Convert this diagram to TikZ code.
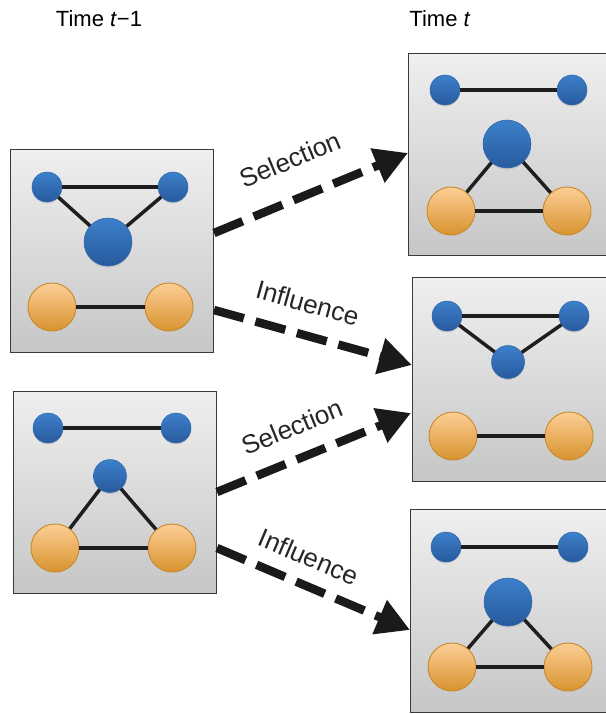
\documentclass[tikz,border=0pt]{standalone}
\usepackage{fontspec}
\setmainfont{Liberation Sans}
\usetikzlibrary{arrows.meta,shadows}
\definecolor{paneltop}{HTML}{EFEFEF}
\definecolor{panelbot}{HTML}{C6C6C6}
\definecolor{boxline}{HTML}{3A3A3A}
\definecolor{bluetop}{HTML}{3C80CA}
\definecolor{bluebot}{HTML}{285A9E}
\definecolor{blueline}{HTML}{2F66AA}
\definecolor{orangetop}{HTML}{FCCE95}
\definecolor{orangebot}{HTML}{D8932E}
\definecolor{orangeline}{HTML}{C88A2E}
\definecolor{edgecol}{HTML}{1E1E1E}
\definecolor{arrowcol}{HTML}{1A1A1A}
\begin{document}
\begin{tikzpicture}[x=1pt,y=-1pt,
  panel/.style={draw=boxline, line width=1.3pt, top color=paneltop, bottom color=panelbot,
    anchor=north west, inner sep=0pt, rectangle},
  bnode/.style={circle, inner sep=0pt, draw=blueline, line width=0.5pt,
    top color=bluetop, bottom color=bluebot, minimum size=#1,
    drop shadow={opacity=0.25, shadow xshift=0pt, shadow yshift=-1.5pt}},
  bnode/.default=30pt,
  onode/.style={circle, inner sep=0pt, draw=orangeline, line width=0.9pt,
    top color=orangetop, bottom color=orangebot, minimum size=#1},
  onode/.default=48pt,
  link/.style={line width=3.5pt, draw=edgecol},
  flow/.style={line width=8.5pt, draw=arrowcol, dash pattern=on 31pt off 12pt,
    -{Triangle[length=33pt,width=35pt]}},
  lab/.style={font=\fontsize{26}{30}\selectfont, inner sep=0pt, text=black!85},
  title/.style={font=\fontsize{22}{26}\selectfont, inner sep=0pt}
]
\useasboundingbox (0,0) rectangle (605,714);

% titles
\node[title] (t1) at (99,19) {Time \textit{t}−1};
\node[title] (t2) at (440,19) {Time \textit{t}};

% ---------- left panel 1 ----------
\node[panel, minimum width=203pt, minimum height=203pt] (L1) at (10,149) {};
\node[bnode] (L1a) at (47,187) {};
\node[bnode] (L1b) at (173,187) {};
\node[bnode=48pt] (L1c) at (108,242) {};
\node[onode] (L1d) at (52,307) {};
\node[onode] (L1e) at (169,307) {};
\draw[link] (L1a) -- (L1b);
\draw[link] (L1a) -- (L1c);
\draw[link] (L1b) -- (L1c);
\draw[link] (L1d) -- (L1e);

% ---------- left panel 2 ----------
\node[panel, minimum width=203pt, minimum height=202pt] (L2) at (13,391) {};
\node[bnode] (L2a) at (48,428) {};
\node[bnode] (L2b) at (176,428) {};
\node[bnode=33pt] (L2c) at (110,476) {};
\node[onode] (L2d) at (55,548) {};
\node[onode] (L2e) at (172,548) {};
\draw[link] (L2a) -- (L2b);
\draw[link] (L2c) -- (L2d);
\draw[link] (L2c) -- (L2e);
\draw[link] (L2d) -- (L2e);

% ---------- right panel 1 ----------
\node[panel, minimum width=210pt, minimum height=202pt] (R1) at (408,53) {};
\node[bnode] (R1a) at (445,90) {};
\node[bnode] (R1b) at (572,90) {};
\node[bnode=48pt] (R1c) at (507,144) {};
\node[onode] (R1d) at (451,211) {};
\node[onode] (R1e) at (567,211) {};
\draw[link] (R1a) -- (R1b);
\draw[link] (R1c) -- (R1d);
\draw[link] (R1c) -- (R1e);
\draw[link] (R1d) -- (R1e);

% ---------- right panel 2 ----------
\node[panel, minimum width=210pt, minimum height=204pt] (R2) at (412,277) {};
\node[bnode] (R2a) at (447,316) {};
\node[bnode] (R2b) at (574,316) {};
\node[bnode=33pt] (R2c) at (508,362) {};
\node[onode] (R2d) at (453,436) {};
\node[onode] (R2e) at (569,436) {};
\draw[link] (R2a) -- (R2b);
\draw[link] (R2a) -- (R2c);
\draw[link] (R2b) -- (R2c);
\draw[link] (R2d) -- (R2e);

% ---------- right panel 3 ----------
\node[panel, minimum width=210pt, minimum height=203pt] (R3) at (410,509) {};
\node[bnode] (R3a) at (446,547) {};
\node[bnode] (R3b) at (573,547) {};
\node[bnode=48pt] (R3c) at (508,602) {};
\node[onode] (R3d) at (452,667) {};
\node[onode] (R3e) at (568,667) {};
\draw[link] (R3a) -- (R3b);
\draw[link] (R3c) -- (R3d);
\draw[link] (R3c) -- (R3e);
\draw[link] (R3d) -- (R3e);

% ---------- arrows ----------
\coordinate (s1a) at (214,233);
\coordinate (s1b) at (408,153);
\coordinate (i1a) at (214,310);
\coordinate (i1b) at (412,365);
\coordinate (s2a) at (217,492);
\coordinate (s2b) at (411,413);
\coordinate (i2a) at (217,548);
\coordinate (i2b) at (410,630);

\draw[flow] (s1a) -- node[lab, sloped, pos=0.47, above=25pt] {Selection} (s1b);
\draw[flow] (i1a) -- node[lab, sloped, pos=0.43, above=18pt] {Influence} (i1b);
\draw[flow] (s2a) -- node[lab, sloped, pos=0.45, above=18pt] {Selection} (s2b);
\draw[flow] (i2a) -- node[lab, sloped, pos=0.42, above=14pt] {Influence} (i2b);
\end{tikzpicture}
\end{document}
